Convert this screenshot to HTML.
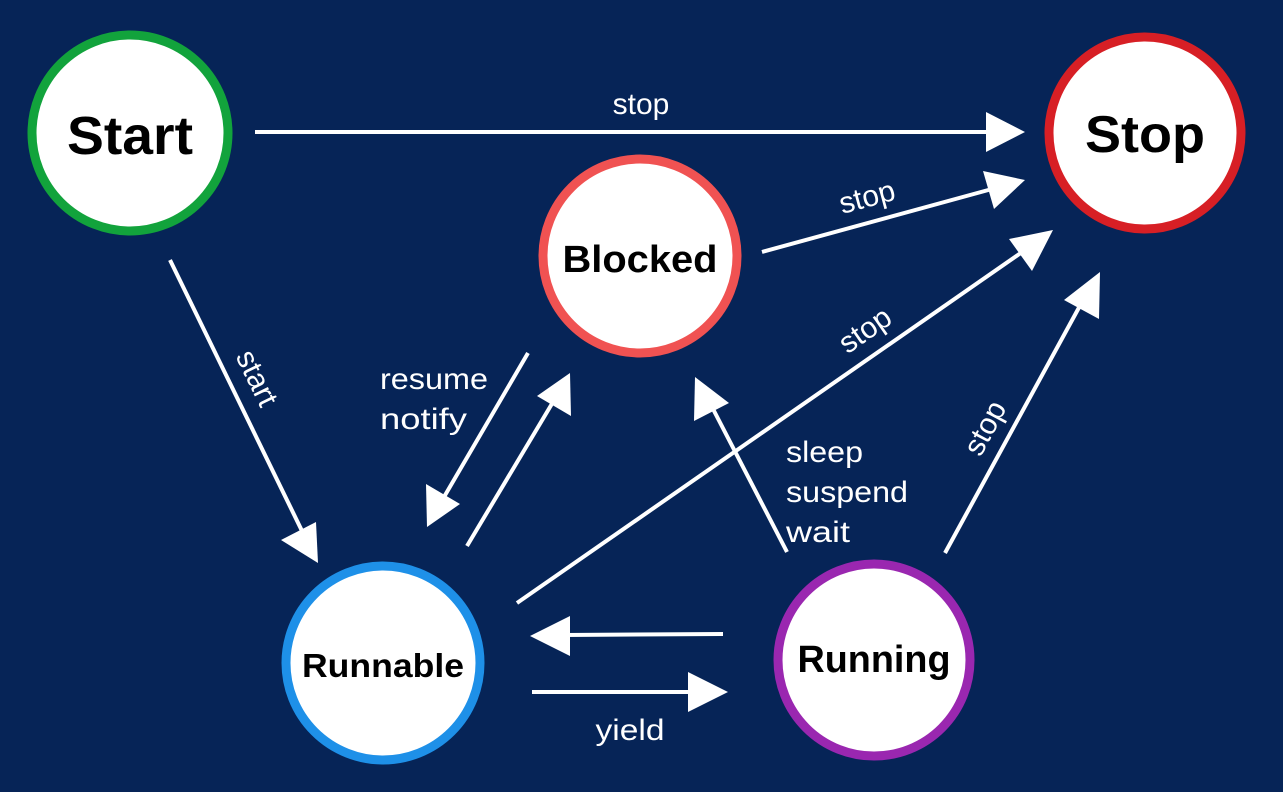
<!DOCTYPE html>
<html><head><meta charset="utf-8"><style>
html,body{margin:0;padding:0;background:#062457;}
svg{display:block;}
text{font-family:"Liberation Sans",sans-serif;}
</style></head><body>
<svg width="1283" height="792" viewBox="0 0 1283 792" xmlns="http://www.w3.org/2000/svg">
<rect width="1283" height="792" fill="#062457"/>
<g fill="#fff" stroke="none">
<circle cx="130" cy="133" r="98" stroke="#12a33c" stroke-width="9"/>
<circle cx="1145" cy="133" r="96" stroke="#d71f25" stroke-width="9"/>
<circle cx="640" cy="256" r="97" stroke="#f05252" stroke-width="9"/>
<circle cx="383" cy="663" r="97" stroke="#1e90e8" stroke-width="9"/>
<circle cx="874" cy="660" r="96" stroke="#9a27b0" stroke-width="9"/>
</g>
<g fill="#000" font-weight="bold" text-anchor="middle">
<text x="130" y="154" font-size="54" textLength="126" lengthAdjust="spacingAndGlyphs">Start</text>
<text x="1145" y="152" font-size="52" textLength="120" lengthAdjust="spacingAndGlyphs">Stop</text>
<text x="640" y="272" font-size="38" textLength="155" lengthAdjust="spacingAndGlyphs">Blocked</text>
<text x="383" y="677" font-size="33" textLength="162" lengthAdjust="spacingAndGlyphs">Runnable</text>
<text x="874" y="672" font-size="38" textLength="153" lengthAdjust="spacingAndGlyphs">Running</text>
</g>
<g stroke="#fff" stroke-width="4" fill="none">
<line x1="255" y1="132" x2="992" y2="132"/>
<line x1="762" y1="252" x2="992" y2="189"/>
<line x1="517" y1="603" x2="1025" y2="250"/>
<line x1="945" y1="553" x2="1082" y2="302"/>
<line x1="170" y1="260" x2="303" y2="533"/>
<line x1="528" y1="353" x2="444" y2="497"/>
<line x1="467" y1="546" x2="553" y2="402"/>
<line x1="787" y1="552" x2="712" y2="407"/>
<line x1="723" y1="634" x2="565" y2="635"/>
<line x1="532" y1="692" x2="693" y2="692"/>
</g>
<g fill="#fff">
<polygon points="1025,132 986,112 986,152"/>
<polygon points="1025,180 983,171 994,209"/>
<polygon points="1053,230 1009,239 1032,271"/>
<polygon points="1100,272 1064,300 1099,319"/>
<polygon points="318,563 281,540 316,522"/>
<polygon points="427,527 426,484 460,504"/>
<polygon points="570,373 571,416 537,396"/>
<polygon points="695,377 729,403 694,421"/>
<polygon points="530,636 570,616 570,656"/>
<polygon points="728,692 688,672 688,712"/>
</g>
<g fill="#fff" font-size="30">
<text x="641" y="114" text-anchor="middle">stop</text>
<text x="867" y="207" text-anchor="middle" transform="rotate(-15 867 197)">stop</text>
<text x="865" y="340" text-anchor="middle" transform="rotate(-35 865 330)">stop</text>
<text x="985" y="438" text-anchor="middle" transform="rotate(-62 985 428)">stop</text>
<text x="257" y="388" text-anchor="middle" transform="rotate(64 257 378)">start</text>
<text x="380" y="389" textLength="108" lengthAdjust="spacingAndGlyphs">resume</text>
<text x="380" y="429" textLength="87" lengthAdjust="spacingAndGlyphs">notify</text>
<text x="786" y="462" textLength="77" lengthAdjust="spacingAndGlyphs">sleep</text>
<text x="786" y="502" textLength="122" lengthAdjust="spacingAndGlyphs">suspend</text>
<text x="786" y="542" textLength="64" lengthAdjust="spacingAndGlyphs">wait</text>
<text x="630" y="740" text-anchor="middle" textLength="69" lengthAdjust="spacingAndGlyphs">yield</text>
</g>
</svg>
</body></html>
